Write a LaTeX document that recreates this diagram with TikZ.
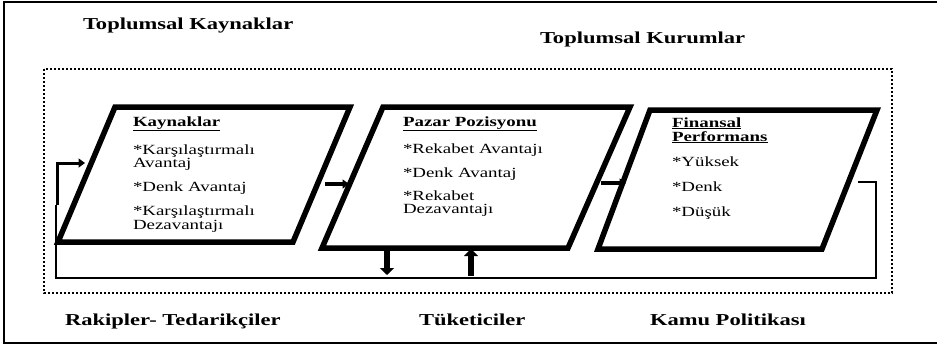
\documentclass[tikz,border=0pt]{standalone}
\usepackage{fontspec}
\setmainfont{Liberation Serif}[FakeStretch=1.35]
\usetikzlibrary{arrows.meta}
\begin{document}
\begin{tikzpicture}[x=1pt,y=-1pt,
  every node/.style={inner sep=0pt,outer sep=0pt},
  title/.style={anchor=base west,font=\fontsize{16.7}{19}\selectfont\bfseries},
  head/.style={anchor=base west,font=\fontsize{14}{15}\selectfont\bfseries},
  item/.style={anchor=base west,font=\fontsize{14}{15}\selectfont},
  panel/.style={line width=5.5pt,line join=miter},
  frame/.style={line width=2.2pt},
  zone/.style={line width=1.8pt,dash pattern=on 1.8pt off 2.2pt},
  loop/.style={line width=1.8pt},
  flow/.style={line width=3.4pt,-{Triangle[length=6.5pt,width=9pt]}},
  bigflow/.style={line width=5.5pt,-{Triangle[length=7pt,width=14pt]}}]
\useasboundingbox (0,0) rectangle (937,346);

% outer frame, open on the right
\draw[frame] (937,2) -- (4,2) -- (4,343) -- (937,343);

% dotted environment boundary
\draw[zone] (44,69) rectangle (892,293);

% headings of the environment
\node[title] (tk) at (83,29) {Toplumsal Kaynaklar};
\node[title] (tku) at (540,43) {Toplumsal Kurumlar};
\node[title] (rt) at (65,325) {Rakipler- Tedarikçiler};
\node[title] (tu) at (419,325) {Tüketiciler};
\node[title] (kp) at (650,325) {Kamu Politikası};

% the three stages
\draw[panel] (115,107) coordinate (k1) -- (350,107) coordinate (k2)
  -- (293,242) coordinate (k3) -- (58,242) coordinate (k4) -- cycle;
\draw[panel] (383,107) coordinate (p1) -- (630,107) coordinate (p2)
  -- (568,248) coordinate (p3) -- (322,248) coordinate (p4) -- cycle;
\draw[panel] (650,110) coordinate (f1) -- (877,110) coordinate (f2)
  -- (822,249) coordinate (f3) -- (598,249) coordinate (f4) -- cycle;

% stage texts
\node[head] (kh) at (133,126) {\underline{Kaynaklar}};
\node[item] (ka1) at (133,154) {*Karşılaştırmalı};
\node[item] (ka2) at (133,167) {Avantaj};
\node[item] (ka3) at (133,191) {*Denk Avantaj};
\node[item] (ka4) at (133,215) {*Karşılaştırmalı};
\node[item] (ka5) at (133,229) {Dezavantajı};

\node[head] (ph) at (403,126) {\underline{Pazar Pozisyonu}};
\node[item] (pa1) at (403,153) {*Rekabet Avantajı};
\node[item] (pa2) at (403,177) {*Denk Avantaj};
\node[item] (pa3) at (403,200) {*Rekabet};
\node[item] (pa4) at (403,213) {Dezavantajı};

\node[head] (fh1) at (672,127) {\underline{Finansal}};
\node[head] (fh2) at (672,141) {\underline{Performans}};
\node[item] (fa1) at (672,166) {*Yüksek};
\node[item] (fa2) at (672,191) {*Denk};
\node[item] (fa3) at (672,216) {*Düşük};

% connection points
\coordinate (a1s) at (325,184);
\coordinate (a1e) at (349,184);
\coordinate (a2s) at (601,183);
\coordinate (a2e) at (626,183);
\coordinate (fbs) at (858,182);
\coordinate (fbr) at (876,182);
\coordinate (fbd) at (876,278);
\coordinate (fbl) at (56,278);
\coordinate (fbu) at (57,163);
\coordinate (fbe) at (85,163);
\coordinate (fbm) at (57,205);
\coordinate (dns) at (387,249);
\coordinate (dne) at (387,275);
\coordinate (ups) at (471,276);
\coordinate (upe) at (471,249);

% flow between stages
\draw[flow] (a1s) -- (a1e);
\draw[flow] (a2s) -- (a2e);

% feedback loop from performance back to resources
\draw[loop] (fbs) -- (fbr) -- (fbd) -- (fbl) -- (fbl |- fbm);
\draw[line width=3pt,-{Triangle[length=6.5pt,width=9pt]}]
  (fbm) -- (fbu) -- (fbe);

% exchange with customers
\draw[bigflow] (dns) -- (dne);
\draw[bigflow] (ups) -- (upe);
\end{tikzpicture}
\end{document}
